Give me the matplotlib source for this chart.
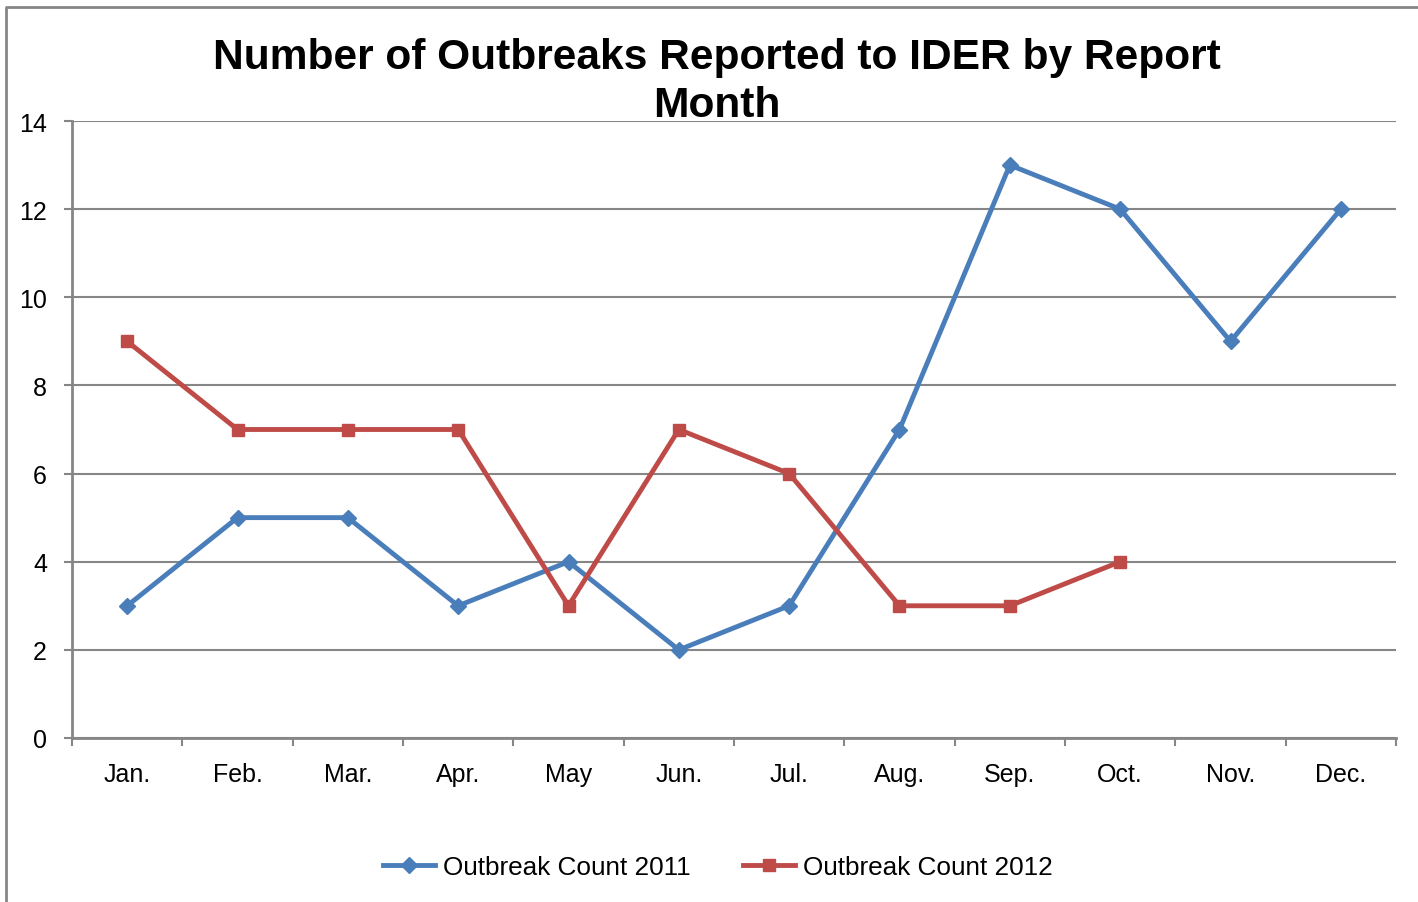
import matplotlib.pyplot as plt
import numpy as np
from matplotlib.lines import Line2D

plt.rcParams['font.family'] = ['Liberation Sans', 'DejaVu Sans']

months = ['Jan.', 'Feb.', 'Mar.', 'Apr.', 'May', 'Jun.', 'Jul.', 'Aug.', 'Sep.', 'Oct.', 'Nov.', 'Dec.']
count_2011 = [3, 5, 5, 3, 4, 2, 3, 7, 13, 12, 9, 12]
count_2012 = [9, 7, 7, 7, 3, 7, 6, 3, 3, 4]

blue = '#4A7EBB'
red = '#BE4B48'
grid_gray = '#868686'

fig = plt.figure(figsize=(14.18, 9.03), dpi=100)
ax = fig.add_axes([72 / 1418, 1 - 739 / 903, (1396 - 72) / 1418, (739 - 122) / 903])

# outer chart border: only top and left edges are inside the picture
bx, by = 6 / 1418, 1 - 8 / 903
fig.lines.append(Line2D([bx, bx, 1.0], [0.0, by, by], transform=fig.transFigure,
                        color=grid_gray, linewidth=2))

x = np.arange(len(months))
ax.plot(x, count_2011, color=blue, linewidth=3.5, marker='D', markersize=8,
        label='Outbreak Count 2011', zorder=3)
ax.plot(x[:len(count_2012)], count_2012, color=red, linewidth=3.5, marker='s', markersize=9,
        label='Outbreak Count 2012', zorder=3)

ax.set_xlim(-0.5, len(months) - 0.5)
ax.set_ylim(0, 14)
ax.set_yticks(range(0, 15, 2))
ax.set_xticks(x)
ax.set_xticklabels(months)
ax.set_xticks(np.arange(-0.5, len(months)), minor=True)
ax.tick_params(axis='x', which='major', length=0, pad=17, labelsize=18)
ax.tick_params(axis='x', which='minor', length=6, width=1.5, color=grid_gray, direction='out')
ax.tick_params(axis='y', length=6, width=1.5, color=grid_gray, labelsize=18, pad=12)

ax.grid(axis='y', color=grid_gray, linewidth=1.5)
ax.set_axisbelow(True)
for side in ['top', 'right']:
    ax.spines[side].set_visible(False)
for side in ['left', 'bottom']:
    ax.spines[side].set_color(grid_gray)
    ax.spines[side].set_linewidth(2)

fig.text(717 / 1418, 1 - 82 / 903, 'Number of Outbreaks Reported to IDER by Report\nMonth',
         ha='center', va='center', fontsize=30.6, fontweight='bold', linespacing=1.25)

fig.legend(loc='center', bbox_to_anchor=(718 / 1418, 1 - 868 / 903), ncol=2, frameon=False,
           fontsize=18.8, handlelength=2.0, handletextpad=0.3, columnspacing=2.0)

plt.savefig('out.png', dpi=100)
